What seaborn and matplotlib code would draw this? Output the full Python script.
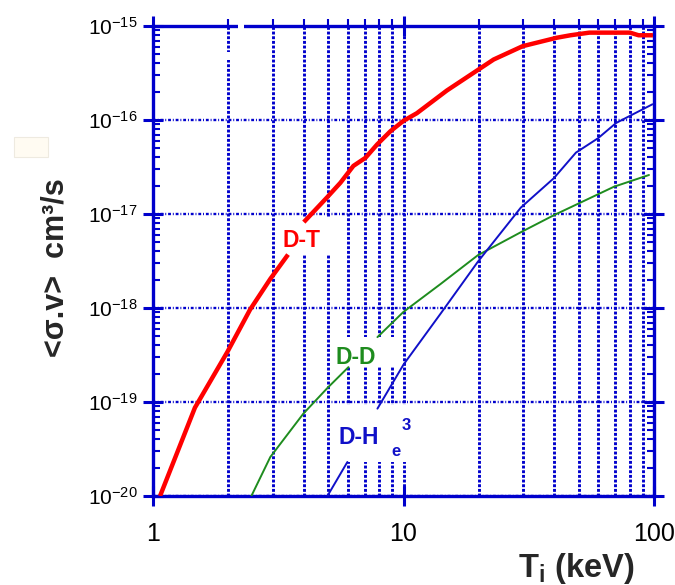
import numpy as np
import pandas as pd
import seaborn as sns
import matplotlib
matplotlib.use("Agg")
import matplotlib.pyplot as plt
from matplotlib.patches import Rectangle
from matplotlib.ticker import LogLocator, LogFormatterSciNotation, NullFormatter, FixedLocator, FixedFormatter

# ---- data (T in keV, <sigma v> in cm^3/s) ----
dt_T   = [1.067, 1.47, 1.98, 2.44, 2.94, 3.46,
          4.0, 4.95, 5.6, 6.31, 7.05, 7.85, 8.87, 10.0, 11.3, 14.9, 22.9, 29.9, 40.9, 46.4, 55.2, 80.2, 86.8, 99.0]
dt_sv  = [1.0e-20, 8.7e-20, 3.4e-19, 9.6e-19, 2.04e-18, 3.7e-18,
          8.2e-18, 1.5e-17, 2.15e-17, 3.25e-17, 3.96e-17, 5.5e-17, 7.6e-17, 9.8e-17, 1.18e-16, 2.06e-16, 4.4e-16, 6.1e-16, 7.5e-16, 7.97e-16, 8.5e-16, 8.5e-16, 7.97e-16, 7.97e-16]
dt_seg = [0] * 6 + [1] * 18

dd_T   = [2.47, 2.94, 3.98, 4.97, 6.03,
          7.87, 10.0, 14.06, 19.8, 29.4, 39.8, 69.2, 95.5]
dd_sv  = [1.0e-20, 2.6e-20, 7.5e-20, 1.41e-19, 2.35e-19,
          4.9e-19, 9.1e-19, 1.8e-18, 3.64e-18, 6.4e-18, 9.7e-18, 1.95e-17, 2.6e-17]
dd_seg = [0] * 5 + [1] * 8

dhe_T   = [4.97, 5.97,
           7.87, 10.0, 14.06, 19.8, 29.4, 39.8, 48.8, 59.8, 70.6, 98.6]
dhe_sv  = [1.0e-20, 2.3e-20,
           8.5e-20, 2.5e-19, 8.7e-19, 3.1e-18, 1.17e-17, 2.4e-17, 4.5e-17, 6.4e-17, 9.3e-17, 1.47e-16]
dhe_seg = [0] * 2 + [1] * 10

x_ticks = [1, 10, 100]
x_tick_labels = ["1", "10", "100"]
y_ticks = [1e-20, 1e-19, 1e-18, 1e-17, 1e-16, 1e-15]

BLUE = "#0000CC"
RED = "#FF0000"
GREEN = "#1E8C1E"
LBLUE = "#1010C8"

sns.set_style("white")
plt.rcParams["font.family"] = ["Liberation Sans", "DejaVu Sans"]
plt.rcParams["mathtext.fontset"] = "custom"
plt.rcParams["mathtext.rm"] = "Liberation Sans"
plt.rcParams["mathtext.bf"] = "Liberation Sans:bold"
plt.rcParams["mathtext.it"] = "Liberation Sans:italic"
plt.rcParams["axes.unicode_minus"] = False

fig = plt.figure(figsize=(6.75, 5.85), dpi=100)
ax = fig.add_axes([153 / 675, 1 - 496 / 585, (654 - 153) / 675, (496 - 26) / 585])

df_dt = pd.DataFrame({"T": dt_T, "sv": dt_sv, "seg": dt_seg})
df_dd = pd.DataFrame({"T": dd_T, "sv": dd_sv, "seg": dd_seg})
df_dhe = pd.DataFrame({"T": dhe_T, "sv": dhe_sv, "seg": dhe_seg})

ax.set_xscale("log")
ax.set_yscale("log")
sns.lineplot(data=df_dd, x="T", y="sv", units="seg", estimator=None, sort=False,
             color=GREEN, linewidth=1.4, ax=ax, zorder=4)
sns.lineplot(data=df_dhe, x="T", y="sv", units="seg", estimator=None, sort=False,
             color=LBLUE, linewidth=1.4, ax=ax, zorder=4)
sns.lineplot(data=df_dt, x="T", y="sv", units="seg", estimator=None, sort=False,
             color=RED, linewidth=3.2, ax=ax, zorder=5, solid_capstyle="butt")

ax.set_xlim(1, 100)
ax.set_ylim(1e-20, 1e-15)
ax.set_xlabel("")
ax.set_ylabel("")

# ticks
ax.xaxis.set_major_locator(FixedLocator(x_ticks))
ax.xaxis.set_major_formatter(FixedFormatter(x_tick_labels))
ax.xaxis.set_minor_locator(LogLocator(base=10, subs=np.arange(2, 10), numticks=20))
ax.xaxis.set_minor_formatter(NullFormatter())
ax.yaxis.set_major_locator(FixedLocator(y_ticks))
ax.yaxis.set_major_formatter(LogFormatterSciNotation())
ax.yaxis.set_minor_locator(LogLocator(base=10, subs=np.arange(2, 10), numticks=20))
ax.yaxis.set_minor_formatter(NullFormatter())

ax.tick_params(axis="x", which="major", labelsize=18, pad=12, colors=BLUE, labelcolor="black",
               direction="inout", length=14, width=2.2, top=True, bottom=True)
ax.tick_params(axis="y", which="major", labelsize=15, pad=4, colors=BLUE, labelcolor="black",
               direction="inout", length=14, width=2.2, left=True, right=True)
ax.tick_params(axis="x", which="minor", direction="out", length=5, width=1.5, colors=BLUE,
               top=True, bottom=False)
ax.tick_params(axis="y", which="minor", direction="in", length=5, width=1.5, colors=BLUE,
               left=True, right=True)

for s in ax.spines.values():
    s.set_color(BLUE)
    s.set_linewidth(2.4)
    s.set_visible(True)

ax.grid(True, which="both", axis="x", color=BLUE, linestyle=(0, (1.0, 0.6)), linewidth=2.1)
ax.grid(True, which="major", axis="y", color=BLUE, linestyle=(0, (1.2, 0.8, 0.4, 0.8)), linewidth=1.7)
ax.grid(False, which="minor", axis="y")
ax.set_axisbelow(True)

# white panels behind the curve labels (they blank the grid there, as in the reference)
def _pix2data(px, py):
    return 10 ** ((px - 153) / 250.5), 10 ** (-20 + (496 - py) / 94.0)

for (x0, y0, x1, y1) in [(276, 254, 332, 218), (333, 366, 394, 337), (334, 462, 413, 405),
                         (225, 60, 233, 52)]:
    dx0, dy0 = _pix2data(x0, y0)
    dx1, dy1 = _pix2data(x1, y1)
    ax.add_patch(Rectangle((dx0, dy0), dx1 - dx0, dy1 - dy0, facecolor="white",
                           edgecolor="none", zorder=1))

# curve labels
ax.text(3.9, 5.2e-18, "D-T", color=RED, fontsize=16.5, fontweight="bold",
        ha="center", va="center", zorder=6)
ax.text(6.45, 3.0e-19, "D-D", color=GREEN, fontsize=16.5, fontweight="bold",
        ha="center", va="center", zorder=6)
ax.text(6.6, 4.2e-20, "D-H", color=LBLUE, fontsize=16.5, fontweight="bold",
        ha="center", va="center", zorder=6)
ax.text(9.33, 3.0e-20, "e", color=LBLUE, fontsize=12, fontweight="bold",
        ha="center", va="center", zorder=6)
ax.text(10.3, 5.6e-20, "3", color=LBLUE, fontsize=12, fontweight="bold",
        ha="center", va="center", zorder=6)

# axis titles
fig.text(56 / 675, 1 - 268 / 585, "<σ.v>  cm³/s", rotation=90, fontsize=22,
         fontweight="bold", ha="center", va="center")
fig.text(576 / 675, 1 - 568 / 585, r"$\mathbf{T_i}$ (keV)", fontsize=23.5,
         fontweight="bold", ha="center", va="center")

# faint beige box at left
fig.patches.append(Rectangle((14 / 675, 1 - 157 / 585), 34 / 675, 20 / 585,
                             transform=fig.transFigure, facecolor="#FFFBF2",
                             edgecolor="#EEEAE0", linewidth=0.8))
# small break in the top frame near T = 2 keV, as in the reference
fig.patches.append(Rectangle((238 / 675, 1 - 31 / 585), 6 / 675, 10 / 585,
                             transform=fig.transFigure, facecolor="white",
                             edgecolor="none", zorder=10))

fig.savefig("out.png", dpi=100)
